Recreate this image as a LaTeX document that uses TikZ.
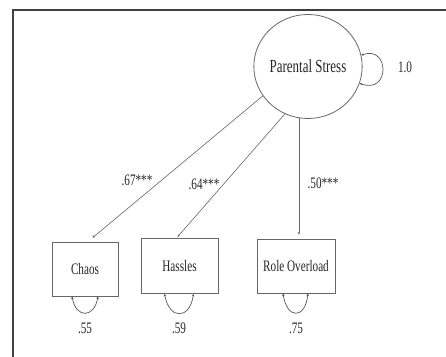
\documentclass[tikz,border=0pt]{standalone}
\usepackage{fontspec}
\setmainfont{Liberation Serif}[FakeStretch=0.7]
\usetikzlibrary{shapes.geometric,arrows.meta,calc}
\begin{document}
\begin{tikzpicture}[x=1pt,y=-1pt,
  latent/.style={ellipse,draw=black!60,line width=0.8pt,minimum width=92pt,minimum height=104pt,inner sep=0pt,text=black!85,font=\fontsize{18.5}{20}\selectfont},
  obsbox/.style={rectangle,draw=black!60,line width=0.9pt,inner sep=0pt,text=black!85,font=\fontsize{16}{18}\selectfont},
  lbl/.style={inner sep=0pt,text=black!85,font=\fontsize{16}{18}\selectfont},
  path/.style={draw=black!60,line width=0.6pt,-{Stealth[length=2.5pt,width=2.5pt]}},
  varloop/.style={draw=black!65,line width=0.7pt,{Stealth[length=2.5pt,width=2.5pt]}-{Stealth[length=2.5pt,width=2.5pt]}},
  frameline/.style={draw=black!75,line width=1.6pt}]
\useasboundingbox (0,0) rectangle (446,356);
% frame
\coordinate (fbl) at (13,357);
\coordinate (ftl) at (13,10);
\coordinate (ftr) at (447,10);
\draw[frameline] (fbl) -- (ftl) -- (ftr);
% nodes
\node[latent] (ps) at (308,66.5) {Parental Stress};
\node[obsbox,minimum width=66pt,minimum height=54pt] (ch) at (85,269) {Chaos};
\node[obsbox,minimum width=77pt,minimum height=55pt] (ha) at (179.5,266) {Hassles};
\node[obsbox,minimum width=78pt,minimum height=54pt] (ro) at (296,266) {Role Overload};
% labels
\node[lbl] (l1) at (405,67) {1.0};
\node[lbl] (l67) at (137,180) {.67***};
\node[lbl] (l64) at (204,184) {.64***};
\node[lbl] (l50) at (323,183) {.50***};
\node[lbl] (v1) at (85,328) {.55};
\node[lbl] (v2) at (179,328) {.59};
\node[lbl] (v3) at (296,328) {.75};
% paths
\draw[path,shorten >=6pt] (ps.213) -- ($(ch.north)+(3,0)$);
\draw[path,shorten >=1.5pt] (ps.244) -- ($(ha.north)+(-3,0)$);
\draw[path,shorten >=4pt] (ps.260) -- (ps.260 |- ro.north);
% variance loops
\draw[varloop] (ps.12) .. controls (390,45) and (390,95) .. (ps.-18);
\draw[varloop] ($(ch.south)+(-13,0)$) .. controls ($(ch.south)+(-9,22)$) and ($(ch.south)+(9,22)$) .. ($(ch.south)+(13,0)$);
\draw[varloop] ($(ha.south)+(-15,0)$) .. controls ($(ha.south)+(-10,26)$) and ($(ha.south)+(10,26)$) .. ($(ha.south)+(14,0)$);
\draw[varloop] ($(ro.south)+(-13,0)$) .. controls ($(ro.south)+(-9,26)$) and ($(ro.south)+(9,26)$) .. ($(ro.south)+(12,0)$);
\end{tikzpicture}
\end{document}
